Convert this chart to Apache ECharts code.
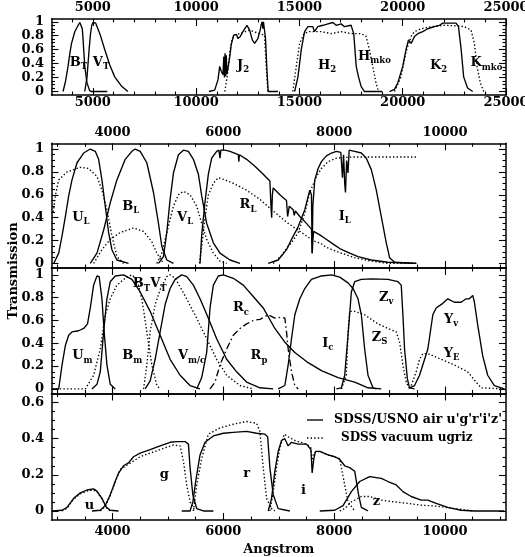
<!DOCTYPE html>
<html><head><meta charset="utf-8">
<script src="https://cdn.jsdelivr.net/npm/echarts@6/dist/echarts.min.js"></script>
<style>html,body{margin:0;padding:0;background:#fff}#c{width:525px;height:557px}</style>
</head><body><div id="c"></div>
<script>
// ---------- Panel 1 (near-IR + Tycho) ----------
const p1_BT = [[3560,0],[3680,0.15],[3800,0.36],[3900,0.57],[3970,0.69],[4130,0.86],[4290,0.95],[4370,0.99],[4440,0.99],[4490,0.9],[4530,0.74],[4610,0.36],[4720,0.12],[4850,0.01],[4950,0],[5700,0]];
const p1_VT = [[4610,0],[4720,0.21],[4820,0.6],[4890,0.83],[4950,0.95],[5010,0.99],[5140,0.98],[5340,0.83],[5580,0.6],[5820,0.38],[6060,0.21],[6380,0.08],[6700,0]];
const p1_J2 = [[10620,0],[10900,0.02],[11060,0.17],[11140,0.36],[11220,0.29],[11300,0.24],[11340,0.5],[11370,0.2],[11400,0.55],[11430,0.22],[11460,0.52],[11490,0.25],[11540,0.26],[11620,0.48],[11700,0.67],[11815,0.81],[11950,0.82],[12020,0.76],[12140,0.79],[12265,0.86],[12460,0.95],[12590,0.88],[12720,0.74],[12830,0.69],[12990,0.76],[13100,0.88],[13160,0.97],[13200,1.0],[13230,0.9],[13260,1.0],[13280,0.95],[13360,0.76],[13430,0.29],[13490,0],[13960,0]];
const p1_Jd = [[11390,0],[11540,0.29],[11620,0.52],[11700,0.71],[11860,0.81],[12100,0.83],[12590,0.88],[13070,0.83],[13310,0.81],[13390,0.38],[13470,0]];
const p1_H2 = [[14770,0],[14930,0.21],[15090,0.6],[15250,0.86],[15410,0.93],[15650,0.93],[15730,0.86],[15890,0.93],[16140,0.95],[16380,0.97],[16620,0.99],[16780,0.95],[17020,0.97],[17180,0.93],[17500,0.95],[17630,0.83],[17750,0.36],[17860,0.21],[17990,0.07],[18150,0],[19000,0]];
const p1_Hmko = [[14680,0],[14850,0.36],[15010,0.69],[15220,0.83],[15490,0.86],[16060,0.86],[16540,0.83],[17020,0.86],[17500,0.83],[17990,0.83],[18230,0.79],[18390,0.6],[18550,0.36],[18710,0.12],[18830,0]];
const p1_K2 = [[19360,0],[19600,0.03],[19760,0.12],[20000,0.36],[20160,0.6],[20280,0.74],[20410,0.69],[20570,0.79],[20730,0.83],[20970,0.86],[21210,0.9],[21540,0.93],[21780,0.95],[21940,0.98],[22180,0.98],[22580,0.98],[22700,0.93],[22830,0.6],[22950,0.21],[23140,0.05],[23390,0]];
const p1_Kmko = [[19600,0],[19920,0.21],[20160,0.57],[20410,0.79],[20570,0.86],[20890,0.9],[21370,0.93],[22020,0.95],[22660,0.94],[22990,0.93],[23310,0.88],[23470,0.69],[23600,0.36],[23760,0.12],[23920,0]];

// ---------- Panel 2 (Landolt-type UBVRI) ----------
const p2_UL = [[2940,0],[3030,0.09],[3090,0.24],[3150,0.41],[3210,0.59],[3270,0.73],[3360,0.88],[3480,0.965],[3600,1.0],[3690,0.98],[3750,0.91],[3810,0.73],[3870,0.5],[3930,0.27],[3990,0.12],[4080,0.03],[4290,0]];
const p2_ULd = [[2930,0.45],[2980,0.62],[3030,0.73],[3180,0.8],[3420,0.84],[3570,0.83],[3720,0.76],[3810,0.64],[3900,0.47],[3990,0.24],[4080,0.06],[4200,0]];
const p2_BL = [[3600,0],[3720,0.09],[3840,0.29],[3960,0.53],[4080,0.73],[4230,0.91],[4350,0.98],[4410,1.0],[4500,0.98],[4620,0.88],[4740,0.62],[4830,0.35],[4890,0.15],[4980,0.03],[5100,0]];
const p2_BLd = [[3660,0],[3810,0.12],[3960,0.21],[4140,0.27],[4380,0.31],[4560,0.28],[4710,0.19],[4800,0.09],[4920,0]];
const p2_VL = [[4830,0],[4920,0.06],[4980,0.27],[5040,0.56],[5100,0.79],[5190,0.95],[5280,0.99],[5370,0.98],[5460,0.91],[5550,0.78],[5610,0.59],[5700,0.35],[5820,0.18],[5940,0.09],[6120,0.03],[6300,0]];
const p2_VLd = [[4800,0],[4890,0.09],[4980,0.27],[5100,0.5],[5190,0.6],[5280,0.63],[5400,0.6],[5520,0.5],[5610,0.35],[5700,0.21],[5820,0.09],[5940,0.02],[6060,0]];
const p2_RL = [[5580,0],[5610,0.25],[5670,0.54],[5730,0.78],[5790,0.92],[5880,0.98],[5920,0.99],[5940,0.92],[5955,0.99],[6030,0.99],[6120,0.98],[6270,0.95],[6280,0.89],[6290,0.95],[6420,0.91],[6570,0.85],[6720,0.78],[6840,0.72],[6860,0.5],[6872,0.4],[6885,0.6],[6900,0.66],[7020,0.6],[7140,0.55],[7160,0.41],[7190,0.5],[7260,0.47],[7280,0.42],[7300,0.46],[7380,0.41],[7500,0.35],[7590,0.3],[7605,0.09],[7615,0.2],[7630,0.28],[7740,0.25],[7830,0.22],[8010,0.16],[8100,0.13],[8280,0.09],[8430,0.06],[8670,0.03],[8970,0.01],[9480,0]];
const p2_RLd = [[5570,0],[5612,0.16],[5670,0.4],[5730,0.6],[5820,0.7],[5910,0.75],[6030,0.73],[6180,0.7],[6420,0.64],[6570,0.59],[6660,0.56],[6870,0.47],[7020,0.41],[7170,0.35],[7380,0.28],[7470,0.25],[7620,0.2],[7770,0.17],[7860,0.14],[8070,0.1],[8370,0.05],[8670,0.02],[8970,0],[9480,0]];
const p2_IL = [[6810,0],[6990,0.03],[7140,0.12],[7230,0.21],[7350,0.32],[7470,0.47],[7560,0.64],[7590,0.6],[7603,0.09],[7615,0.5],[7650,0.73],[7710,0.83],[7770,0.89],[7860,0.94],[7950,0.965],[8040,0.98],[8120,0.97],[8150,0.75],[8170,0.95],[8190,0.7],[8204,0.62],[8225,0.9],[8250,0.79],[8270,0.99],[8370,0.98],[8490,0.965],[8580,0.92],[8670,0.82],[8760,0.64],[8850,0.41],[8940,0.18],[9000,0.05],[9090,0.01],[9480,0]];
const p2_ILd = [[6900,0],[7050,0.07],[7170,0.15],[7230,0.18],[7350,0.27],[7470,0.44],[7560,0.62],[7680,0.76],[7770,0.83],[7890,0.89],[8040,0.92],[8310,0.93],[9480,0.93]];

// ---------- Panel 3 (other UBVRIZY systems) ----------
const p3_Um = [[2920,0],[3030,0],[3090,0.21],[3150,0.38],[3210,0.47],[3270,0.5],[3390,0.51],[3480,0.53],[3550,0.57],[3600,0.71],[3660,0.91],[3720,0.99],[3760,0.985],[3810,0.79],[3850,0.5],[3900,0.21],[3960,0.04],[4050,0]];
const p3_BTd = [[2920,0],[3510,0],[3660,0.12],[3780,0.35],[3870,0.65],[3960,0.79],[4080,0.91],[4230,0.97],[4350,1.0],[4440,0.96],[4530,0.79],[4620,0.5],[4710,0.21],[4800,0.03],[4860,0]];
const p3_VTd = [[4560,0],[4620,0.21],[4680,0.5],[4770,0.74],[4860,0.87],[4980,0.985],[5040,1.0],[5130,0.97],[5250,0.87],[5370,0.76],[5520,0.62],[5700,0.44],[5880,0.26],[6060,0.12],[6300,0.03],[6540,0]];
const p3_Bm = [[3630,0],[3720,0.04],[3780,0.15],[3840,0.5],[3900,0.79],[3960,0.94],[4050,0.99],[4200,1.0],[4350,0.96],[4500,0.85],[4680,0.68],[4860,0.47],[5040,0.26],[5220,0.12],[5400,0.03],[5580,0]];
const p3_Vm = [[4590,0],[4680,0.07],[4770,0.26],[4860,0.5],[4950,0.74],[5040,0.88],[5130,0.96],[5250,1.0],[5340,0.985],[5460,0.91],[5580,0.79],[5730,0.62],[5880,0.44],[6060,0.26],[6240,0.15],[6420,0.06],[6660,0.01],[6900,0]];
const p3_Rc = [[5520,0],[5610,0.1],[5700,0.32],[5760,0.71],[5820,0.91],[5910,0.99],[6000,1.0],[6180,0.97],[6360,0.91],[6540,0.81],[6720,0.71],[6930,0.53],[7110,0.41],[7290,0.32],[7530,0.23],[7770,0.16],[8070,0.1],[8370,0.06],[8610,0.01],[8850,0]];
const p3_Rp = [[5760,0],[5850,0.06],[5940,0.21],[6060,0.35],[6180,0.47],[6300,0.53],[6420,0.57],[6540,0.6],[6660,0.61],[6810,0.65],[6930,0.62],[7050,0.63],[7110,0.62],[7140,0.5],[7170,0.35],[7230,0.15],[7290,0.03],[7350,0]];
const p3_Ic = [[6990,0],[7110,0.03],[7170,0.21],[7230,0.44],[7290,0.65],[7380,0.79],[7470,0.88],[7590,0.96],[7770,0.99],[7950,1.0],[8100,0.98],[8250,0.93],[8340,0.88],[8430,0.79],[8490,0.65],[8550,0.35],[8610,0.12],[8700,0.01],[8760,0]];
const p3_Zv = [[8040,0],[8130,0.01],[8190,0.12],[8250,0.47],[8310,0.85],[8370,0.94],[8490,0.96],[8670,0.965],[8970,0.96],[9150,0.94],[9210,0.91],[9240,0.65],[9270,0.35],[9320,0.09],[9360,0.01],[9450,0]];
const p3_Zs = [[8130,0],[8220,0.12],[8250,0.5],[8280,0.68],[8370,0.68],[8550,0.65],[8790,0.57],[8970,0.53],[9120,0.5],[9180,0.41],[9240,0.21],[9300,0.06],[9360,0]];
const p3_Yv = [[9360,0.01],[9450,0.03],[9540,0.12],[9690,0.35],[9780,0.65],[9840,0.71],[9960,0.75],[10050,0.79],[10170,0.76],[10290,0.76],[10380,0.79],[10440,0.79],[10500,0.82],[10530,0.76],[10590,0.56],[10680,0.29],[10770,0.12],[10890,0.03],[11070,0]];
const p3_Ye = [[9390,0.03],[9480,0.15],[9540,0.26],[9600,0.31],[9690,0.31],[9930,0.26],[10170,0.21],[10410,0.15],[10560,0.06],[10650,0.01],[11070,0]];

// ---------- Panel 4 (SDSS) ----------
const p4_u = [[2910,0],[3090,0.004],[3180,0.02],[3300,0.07],[3420,0.1],[3540,0.116],[3660,0.122],[3720,0.11],[3810,0.07],[3890,0.02],[3960,0.004],[4110,0]];
const p4_ud = [[3090,0],[3180,0.015],[3300,0.065],[3420,0.095],[3540,0.11],[3660,0.115],[3720,0.105],[3810,0.065],[3890,0.02],[3960,0]];
const p4_g = [[3630,0],[3780,0.004],[3870,0.03],[3960,0.09],[4050,0.165],[4110,0.21],[4200,0.25],[4290,0.266],[4380,0.3],[4500,0.32],[4680,0.34],[4860,0.36],[5040,0.38],[5160,0.384],[5310,0.384],[5370,0.37],[5400,0.24],[5450,0.09],[5520,0.013],[5640,0],[5820,0]];
const p4_gd = [[3780,0],[3870,0.025],[3960,0.085],[4050,0.16],[4140,0.23],[4500,0.3],[4860,0.34],[5100,0.365],[5220,0.36],[5280,0.275],[5340,0.144],[5400,0.05],[5490,0]];
const p4_r = [[5250,0],[5400,0],[5450,0.05],[5510,0.18],[5580,0.31],[5670,0.38],[5820,0.415],[6000,0.43],[6180,0.435],[6420,0.44],[6600,0.43],[6750,0.425],[6800,0.41],[6840,0.24],[6900,0.09],[6990,0.013],[7200,0]];
const p4_rd = [[5460,0],[5520,0.144],[5610,0.29],[5730,0.425],[5940,0.46],[6180,0.48],[6420,0.495],[6600,0.485],[6660,0.44],[6720,0.24],[6780,0.07],[6870,0.013],[6930,0]];
const p4_i = [[6810,0],[6870,0.07],[6930,0.22],[6990,0.33],[7050,0.39],[7110,0.4],[7170,0.36],[7230,0.38],[7350,0.37],[7500,0.37],[7580,0.34],[7603,0.21],[7633,0.29],[7663,0.33],[7740,0.33],[7890,0.31],[8010,0.3],[8100,0.285],[8190,0.25],[8280,0.24],[8370,0.22],[8400,0.165],[8440,0.09],[8490,0.02],[8610,0]];
const p4_id = [[6840,0],[6900,0.107],[6960,0.24],[7020,0.35],[7100,0.425],[7170,0.41],[7290,0.39],[7500,0.37],[7580,0.35],[7600,0.27],[7630,0.32],[7740,0.33],[7890,0.31],[8100,0.29],[8130,0.24],[8190,0.144],[8250,0.05],[8370,0]];
const p4_z = [[7740,0],[8010,0.004],[8160,0.03],[8310,0.107],[8460,0.163],[8640,0.19],[8850,0.18],[8970,0.163],[9120,0.144],[9240,0.107],[9390,0.08],[9570,0.06],[9690,0.06],[9840,0.042],[10050,0.02],[10290,0.004],[10530,0],[11070,0]];
const p4_zd = [[8100,0],[8190,0.013],[8310,0.05],[8490,0.08],[8640,0.08],[8850,0.06],[9090,0.05],[9330,0.042],[9570,0.032],[9870,0.026],[10170,0.013],[10410,0.004],[10530,0]];

// ---------- tick labels ----------
const xTicksIR = [5000,10000,15000,20000,25000];
const xMinorIR = [4000,6000,7000,8000,9000,11000,12000,13000,14000,16000,17000,18000,19000,21000,22000,23000,24000];
const xTicksOpt = [4000,6000,8000,10000];
const xMinorOpt = [3000,3500,4500,5000,5500,6500,7000,7500,8500,9000,9500,10500,11000];
const yTicks1 = [0,0.2,0.4,0.6,0.8,1];
const yMinor1 = [0.05,0.1,0.15,0.25,0.3,0.35,0.45,0.5,0.55,0.65,0.7,0.75,0.85,0.9,0.95];
const yTicks4 = [0,0.2,0.4,0.6];
const yMinor4 = [0.05,0.1,0.15,0.25,0.3,0.35,0.45,0.5,0.55];

// ---------- filter name labels: [[main, subscript]...], wavelength, transmission ----------
const labels1 = [[[['B','T']],4300,0.42],[[['V','T']],5396,0.42],[[['J','2']],12270,0.37],[[['H','2']],16336,0.37],[[['H','mko']],18635,0.50],[[['K','2']],21733,0.37],[[['K','mko']],24056,0.41]];
const labels2 = [[[['U','L']],3430,0.40],[[['B','L']],4330,0.50],[[['V','L']],5311,0.40],[[['R','L']],6445,0.51],[[['I','L']],8191,0.41]];
const labels3 = [[[['U','m']],3457,0.29],[[['B','m']],4357,0.29],[[['B','T'],['V','T']],4672,0.92],[[['V','m/c']],5428,0.29],[[['R','c']],6319,0.71],[[['R','p']],6643,0.29],[[['I','c']],7885,0.40],[[['Z','v']],8938,0.80],[[['Z','S']],8821,0.45],[[['Y','v']],10108,0.61],[[['Y','E']],10117,0.31]];
const labels4 = [[[['u','']],3583,0.03],[[['g','']],4933,0.2],[[['r','']],6422,0.205],[[['i','']],7448,0.115],[[['z','']],8762,0.05]];
const legendTexts = ["SDSS/USNO air u'g'r'i'z'", "SDSS vacuum ugriz"];
const yTitle = 'Transmission';
const xTitle = 'Angstrom';

// ---------- build chart ----------
const FONT = 'DejaVu Serif';
const TXT = {fontFamily: FONT, fontWeight: 'bold', fontSize: 13, color: '#000'};
const SOLID = 'solid', DOT = [1.4, 2.2], DASHDOT = [7, 3, 1.5, 3];
const panels = [
  {grid:{left:51.5, top:19, width:454.5, height:76}, xmin:3000, xmax:25000, ymin:-0.05, ymax:1.04,
   xMaj:xTicksIR, xMin:xMinorIR, yMaj:yTicks1, yMin:yMinor1, lblBottom:true, lblTop:true, mb:1, mt:5},
  {grid:{left:51.5, top:143.3, width:454.5, height:124.7}, xmin:2900, xmax:11100, ymin:-0.04, ymax:1.05,
   xMaj:xTicksOpt, xMin:xMinorOpt, yMaj:yTicks1, yMin:yMinor1, lblBottom:false, lblTop:true, mt:4},
  {grid:{left:51.5, top:268, width:454.5, height:125.5}, xmin:2900, xmax:11100, ymin:-0.04, ymax:1.06,
   xMaj:xTicksOpt, xMin:xMinorOpt, yMaj:yTicks1, yMin:yMinor1, lblBottom:false, lblTop:false},
  {grid:{left:51.5, top:393.5, width:454.5, height:126.5}, xmin:2900, xmax:11100, ymin:-0.05, ymax:0.65,
   xMaj:xTicksOpt, xMin:xMinorOpt, yMaj:yTicks4, yMin:yMinor4, lblBottom:true, lblTop:false, mb:5, name:xTitle}
];
const grids=[], xAxes=[], yAxes=[], series=[];
const lineS = {color:'#000', width:1.5};
const tickS = {color:'#000', width:1.1};
panels.forEach((p, g) => {
  grids.push(Object.assign({outerBoundsMode:'none', containLabel:false}, p.grid));
  const mk = (pos, major, showLine, lbl, margin, isX) => ({
    gridIndex:g, type:'value', position:pos, min: isX?p.xmin:p.ymin, max: isX?p.xmax:p.ymax,
    splitLine:{show:false}, silent:true,
    axisLine:{show:showLine, onZero:false, lineStyle:lineS},
    axisTick:{show:true, inside:true, length: major?7:3.5, lineStyle:tickS, customValues: isX ? (major?p.xMaj:p.xMin) : (major?p.yMaj:p.yMin)},
    axisLabel:{show:!!lbl, margin: margin||0, customValues: isX ? p.xMaj : p.yMaj, formatter: v => String(v), ...TXT}
  });
  const xb = mk('bottom', true, true, p.lblBottom, p.mb, true);
  if (p.name) { xb.name = p.name; xb.nameLocation = 'middle'; xb.nameGap = 23; xb.nameTextStyle = {...TXT}; }
  xAxes.push(xb, mk('bottom', false, false, false, 0, true), mk('top', true, true, p.lblTop, p.mt, true), mk('top', false, false, false, 0, true));
  yAxes.push(mk('left', true, true, true, 7.5, false), mk('left', false, false, false, 0, false), mk('right', true, true, false, 0, false), mk('right', false, false, false, 0, false));
});
function curve(g, data, type){
  series.push({type:'line', xAxisIndex:4*g, yAxisIndex:4*g, data, symbol:'none', silent:true, animation:false,
    lineStyle:{color:'#000', width:1.35, type}, z:3});
}
curve(0,p1_BT,SOLID); curve(0,p1_VT,SOLID); curve(0,p1_J2,SOLID); curve(0,p1_Jd,DOT);
curve(0,p1_H2,SOLID); curve(0,p1_Hmko,DOT); curve(0,p1_K2,SOLID); curve(0,p1_Kmko,DOT);
curve(1,p2_UL,SOLID); curve(1,p2_ULd,DOT); curve(1,p2_BL,SOLID); curve(1,p2_BLd,DOT);
curve(1,p2_VL,SOLID); curve(1,p2_VLd,DOT); curve(1,p2_RL,SOLID); curve(1,p2_RLd,DOT);
curve(1,p2_IL,SOLID); curve(1,p2_ILd,DOT);
curve(2,p3_Um,SOLID); curve(2,p3_BTd,DOT); curve(2,p3_VTd,DOT); curve(2,p3_Bm,SOLID);
curve(2,p3_Vm,SOLID); curve(2,p3_Rc,SOLID); curve(2,p3_Rp,DASHDOT); curve(2,p3_Ic,SOLID);
curve(2,p3_Zv,SOLID); curve(2,p3_Zs,DOT); curve(2,p3_Yv,SOLID); curve(2,p3_Ye,DOT);
curve(3,p4_u,SOLID); curve(3,p4_ud,DOT); curve(3,p4_g,SOLID); curve(3,p4_gd,DOT);
curve(3,p4_r,SOLID); curve(3,p4_rd,DOT); curve(3,p4_i,SOLID); curve(3,p4_id,DOT);
curve(3,p4_z,SOLID); curve(3,p4_zd,DOT);

const graphic = [
  {type:'text', x:14, y:271, rotation:Math.PI/2, style:{text:yTitle, font:'bold 13px "DejaVu Serif"', fill:'#000', align:'center', verticalAlign:'middle'}},
  {type:'line', shape:{x1:307, y1:420, x2:323, y2:420}, style:{stroke:'#000', lineWidth:1.35}},
  {type:'text', x:334, y:420, style:{text:legendTexts[0], font:'bold 12.5px "DejaVu Serif"', fill:'#000', align:'left', verticalAlign:'middle'}},
  {type:'line', shape:{x1:307, y1:438, x2:323, y2:438}, style:{stroke:'#000', lineWidth:1.35, lineDash:DOT}},
  {type:'text', x:341, y:438, style:{text:legendTexts[1], font:'bold 12px "DejaVu Serif"', fill:'#000', align:'left', verticalAlign:'middle'}}
];

const chart = echarts.init(document.getElementById('c'), null, {renderer:'canvas'});
chart.setOption({animation:false, backgroundColor:'#fff', grid:grids, xAxis:xAxes, yAxis:yAxes, series, graphic});

// filter names with subscripts, anchored at data coordinates
const mctx = document.createElement('canvas').getContext('2d');
const MAIN = 13, SUB = 8.5;
function tw(t, size){ mctx.font = 'bold ' + size + 'px "DejaVu Serif"'; return mctx.measureText(t).width; }
[[0,labels1],[1,labels2],[2,labels3],[3,labels4]].forEach(([g, list]) => {
  list.forEach(([segs, x, y]) => {
    const pt = chart.convertToPixel({xAxisIndex:4*g, yAxisIndex:4*g}, [x, y]);
    let total = 0;
    segs.forEach(([m, s]) => { total += tw(m, MAIN) + (s ? tw(s, SUB) : 0); });
    let cx = pt[0] - total / 2;
    segs.forEach(([m, s]) => {
      graphic.push({type:'text', x:cx, y:pt[1], z:10, style:{text:m, font:'bold ' + MAIN + 'px "DejaVu Serif"', fill:'#000', align:'left', verticalAlign:'middle'}});
      cx += tw(m, MAIN);
      if (s) {
        graphic.push({type:'text', x:cx, y:pt[1] + 4.5, z:10, style:{text:s, font:'bold ' + SUB + 'px "DejaVu Serif"', fill:'#000', align:'left', verticalAlign:'middle'}});
        cx += tw(s, SUB);
      }
    });
  });
});
chart.setOption({graphic});
</script></body></html>
